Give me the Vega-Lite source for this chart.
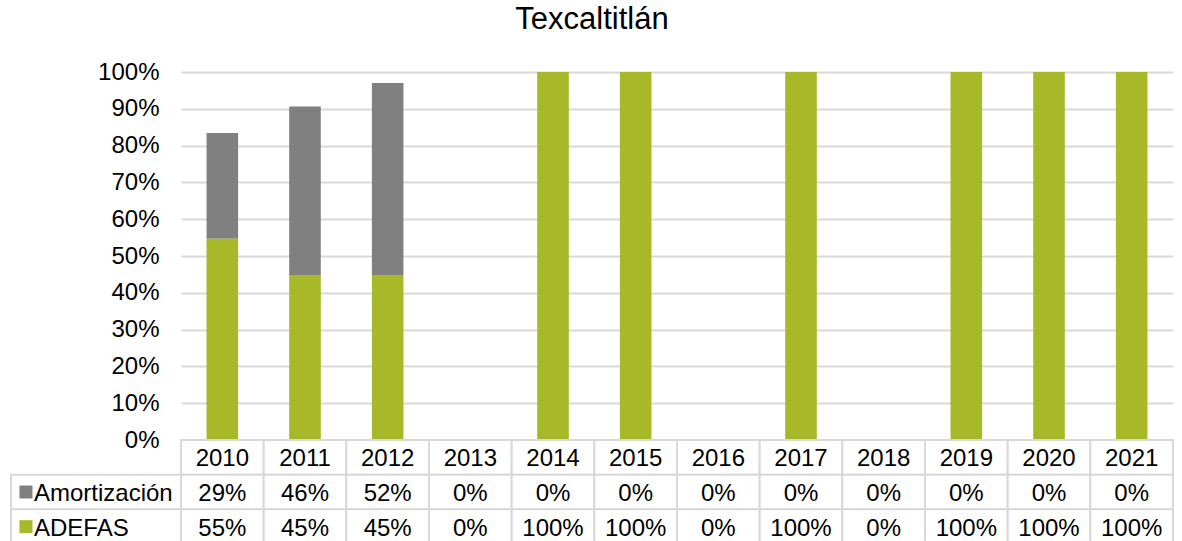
{
  "$schema": "https://vega.github.io/schema/vega-lite/v6.json",
  "background": "white",
  "padding": {"left": 10, "right": 10, "top": 4, "bottom": 0},
  "title": {"text": "Texcaltitlán", "fontSize": 31, "font": "Liberation Sans", "fontWeight": "normal", "color": "#000000", "anchor": "middle", "offset": 24},
  "config": {"view": {"stroke": null}, "font": "Liberation Sans"},
  "datasets": {
    "rows": [
      {"year": "2010", "serie": "Amortización", "value": 0.287},
      {"year": "2010", "serie": "ADEFAS", "value": 0.547},
      {"year": "2011", "serie": "Amortización", "value": 0.46},
      {"year": "2011", "serie": "ADEFAS", "value": 0.446},
      {"year": "2012", "serie": "Amortización", "value": 0.524},
      {"year": "2012", "serie": "ADEFAS", "value": 0.446},
      {"year": "2013", "serie": "Amortización", "value": 0},
      {"year": "2013", "serie": "ADEFAS", "value": 0},
      {"year": "2014", "serie": "Amortización", "value": 0},
      {"year": "2014", "serie": "ADEFAS", "value": 1},
      {"year": "2015", "serie": "Amortización", "value": 0},
      {"year": "2015", "serie": "ADEFAS", "value": 1},
      {"year": "2016", "serie": "Amortización", "value": 0},
      {"year": "2016", "serie": "ADEFAS", "value": 0},
      {"year": "2017", "serie": "Amortización", "value": 0},
      {"year": "2017", "serie": "ADEFAS", "value": 1},
      {"year": "2018", "serie": "Amortización", "value": 0},
      {"year": "2018", "serie": "ADEFAS", "value": 0},
      {"year": "2019", "serie": "Amortización", "value": 0},
      {"year": "2019", "serie": "ADEFAS", "value": 1},
      {"year": "2020", "serie": "Amortización", "value": 0},
      {"year": "2020", "serie": "ADEFAS", "value": 1},
      {"year": "2021", "serie": "Amortización", "value": 0},
      {"year": "2021", "serie": "ADEFAS", "value": 1}
    ]
  },
  "columns": 2,
  "spacing": 0,
  "bounds": "flush",
  "concat": [
    {
      "width": 170, "height": 368,
      "data": {"values": []},
      "mark": "text",
      "encoding": {}
    },
    {
      "width": 992, "height": 368,
      "data": {"name": "rows"},
      "mark": {"type": "bar"},
      "encoding": {
        "x": {"field": "year", "type": "nominal", "sort": null, "axis": null, "scale": {"paddingInner": 0.618, "paddingOuter": 0.309}},
        "y": {"field": "value", "type": "quantitative", "stack": "zero",
          "scale": {"domain": [0, 1], "nice": false},
          "axis": {"values": [0, 0.1, 0.2, 0.3, 0.4, 0.5, 0.6, 0.7, 0.8, 0.9, 1], "format": ".0%", "title": null, "domain": false, "ticks": false, "tickSize": 0, "labelPadding": 22, "labelFontSize": 24, "labelColor": "#000000", "labelFont": "Liberation Sans", "gridColor": "#d9d9d9", "gridWidth": 2}},
        "color": {"field": "serie", "type": "nominal", "scale": {"domain": ["Amortización", "ADEFAS"], "range": ["#808080", "#A7B828"]}, "legend": null},
        "order": {"field": "serie", "sort": "ascending"}
      }
    },
    {
      "width": 170, "height": 104,
      "data": {"name": "rows"},
      "transform": [{"filter": "datum.year == '2010'"}],
      "layer": [
        {
          "mark": {"type": "rect", "fill": "white", "stroke": "#d9d9d9", "strokeWidth": 2},
          "encoding": {
            "x": {"datum": "c", "type": "nominal", "scale": {"paddingInner": 0, "paddingOuter": 0}, "axis": null},
            "y": {"field": "serie", "type": "nominal", "scale": {"domain": ["hdr", "Amortización", "ADEFAS"], "paddingInner": 0, "paddingOuter": 0}, "axis": null}
          }
        },
        {
          "mark": {"type": "point", "shape": "square", "filled": true, "size": 169, "opacity": 1, "dy": 2},
          "encoding": {
            "x": {"datum": "c", "type": "nominal", "bandPosition": 0.088},
            "y": {"field": "serie", "type": "nominal"},
            "color": {"field": "serie", "type": "nominal", "scale": {"domain": ["Amortización", "ADEFAS"], "range": ["#808080", "#A7B828"]}, "legend": null}
          }
        },
        {
          "mark": {"type": "text", "align": "left", "baseline": "middle", "fontSize": 24, "color": "#000000", "dy": 2},
          "encoding": {
            "x": {"datum": "c", "type": "nominal", "bandPosition": 0.135},
            "y": {"field": "serie", "type": "nominal"},
            "text": {"field": "serie"}
          }
        }
      ]
    },
    {
      "width": 992, "height": 104,
      "data": {"name": "rows"},
      "layer": [
        {
          "transform": [{"filter": "datum.serie == 'ADEFAS'"}],
          "mark": {"type": "rect", "fill": "white", "stroke": "#d9d9d9", "strokeWidth": 2},
          "encoding": {
            "x": {"field": "year", "type": "nominal", "sort": null, "axis": null, "scale": {"paddingInner": 0, "paddingOuter": 0}},
            "y": {"datum": "hdr", "type": "nominal", "scale": {"domain": ["hdr", "Amortización", "ADEFAS"], "paddingInner": 0, "paddingOuter": 0}, "axis": null}
          }
        },
        {
          "transform": [{"filter": "datum.serie == 'ADEFAS'"}],
          "mark": {"type": "text", "align": "center", "baseline": "middle", "fontSize": 24, "color": "#000000", "dy": 2},
          "encoding": {
            "x": {"field": "year", "type": "nominal", "sort": null},
            "y": {"datum": "hdr", "type": "nominal"},
            "text": {"field": "year"}
          }
        },
        {
          "mark": {"type": "rect", "fill": "white", "stroke": "#d9d9d9", "strokeWidth": 2},
          "encoding": {
            "x": {"field": "year", "type": "nominal", "sort": null},
            "y": {"field": "serie", "type": "nominal"}
          }
        },
        {
          "mark": {"type": "text", "align": "center", "baseline": "middle", "fontSize": 24, "color": "#000000", "dy": 2},
          "encoding": {
            "x": {"field": "year", "type": "nominal", "sort": null},
            "y": {"field": "serie", "type": "nominal"},
            "text": {"field": "value", "type": "quantitative", "format": ".0%"}
          }
        }
      ]
    }
  ]
}
